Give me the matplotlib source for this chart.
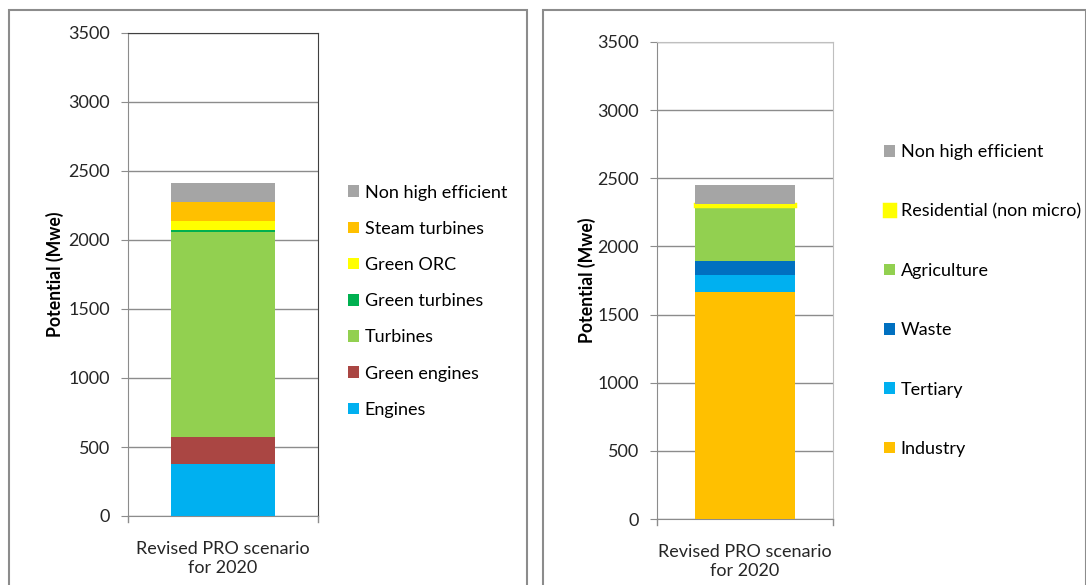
import matplotlib.pyplot as plt
from matplotlib.patches import Rectangle, Patch

plt.rcParams["font.family"] = ["Lato", "DejaVu Sans"]

scenario = ["Revised PRO scenario\nfor 2020"]

# technology split (MWe), bottom to top
tech_labels = ["Engines", "Green engines", "Turbines", "Green turbines",
               "Green ORC", "Steam turbines", "Non high efficient"]
tech_values = [380, 190, 1485, 15, 70, 138, 135]
tech_colors = ["#00B0F0", "#AA4643", "#92D050", "#00B050",
               "#FFFF00", "#FFC000", "#A5A5A5"]

# sector split (MWe), bottom to top
sector_labels = ["Industry", "Tertiary", "Waste", "Agriculture",
                 "Residential (non micro)", "Non high efficient"]
sector_values = [1668, 120, 107, 405, 8, 140]
sector_colors = ["#FFC000", "#00B0F0", "#0070C0", "#92D050",
                 "#FFFF00", "#A5A5A5"]

yticks = [0, 500, 1000, 1500, 2000, 2500, 3000, 3500]

FS = 13
W, H = 1086, 585
fig = plt.figure(figsize=(W / 100, H / 100), dpi=100)


def px_axes(x0, x1, y_top, y_bot):
    return fig.add_axes([x0 / W, 1 - y_bot / H, (x1 - x0) / W, (y_bot - y_top) / H])


def stacked(ax, labels, values, colors, width, edge_idx=None):
    handles = []
    bottom = 0
    for i, (lab, v, c) in enumerate(zip(labels, values, colors)):
        if i == edge_idx:
            ax.bar(scenario, [v], bottom=bottom, width=width, color=c,
                   edgecolor=c, linewidth=2.5, zorder=3)
            handles.append(Patch(facecolor=c, edgecolor=c, linewidth=2.5, label=lab))
        else:
            ax.bar(scenario, [v], bottom=bottom, width=width, color=c,
                   linewidth=0, zorder=3)
            handles.append(Patch(facecolor=c, label=lab))
        bottom += v
    return handles


def style(ax, frame_color, ylabel_pad):
    ax.set_ylim(0, 3500)
    ax.set_xlim(-0.5, 0.5)
    ax.set_yticks(yticks)
    ax.set_yticklabels([str(t) for t in yticks], fontsize=FS, color="#262626")
    ax.grid(axis="y", color="#8c8c8c", linewidth=1, zorder=0)
    ax.set_axisbelow(True)
    for s in ["left", "bottom"]:
        ax.spines[s].set_color("#8c8c8c")
    for s in ["top", "right"]:
        ax.spines[s].set_color(frame_color)
    ax.tick_params(axis="y", length=5, color="#8c8c8c", pad=8)
    ax.tick_params(axis="x", length=0, pad=18, labelsize=FS, labelcolor="#262626")
    for lab in ax.get_xticklabels():
        lab.set_linespacing(1.2)
    # small tick marks at the category boundaries
    for xx in (-0.5, 0.5):
        ax.plot([xx, xx], [0, -0.012], transform=ax.get_xaxis_transform(),
                color="#8c8c8c", lw=1, clip_on=False)
    ax.set_ylabel("Potential (Mwe)", fontsize=FS - 0.3, fontweight="bold",
                  labelpad=ylabel_pad)


# left panel
ax1 = px_axes(128, 318, 33, 516)
h1 = stacked(ax1, tech_labels, tech_values, tech_colors, width=0.55)
style(ax1, "#404040", 3)
ax1.legend(handles=h1[::-1], loc="upper left", bbox_to_anchor=(1.11, 0.705),
           frameon=False, fontsize=FS, handlelength=0.62, handleheight=0.62,
           handletextpad=0.3, labelspacing=1.12, borderpad=0)

# right panel
ax2 = px_axes(657, 833, 42, 519)
h2 = stacked(ax2, sector_labels, sector_values, sector_colors, width=0.57, edge_idx=4)
style(ax2, "#bfbfbf", 1)
ax2.legend(handles=h2[::-1], loc="upper left", bbox_to_anchor=(1.238, 0.805),
           frameon=False, fontsize=FS, handlelength=0.62, handleheight=0.62,
           handletextpad=0.3, labelspacing=2.4, borderpad=0)

# panel frames
fig.patches.append(Rectangle((9 / W, -0.1), (527 - 9) / W, 1.1 - 10 / H,
                             transform=fig.transFigure, fill=False,
                             edgecolor="#8c8c8c", linewidth=1.5))
fig.patches.append(Rectangle((543 / W, -0.1), 0.5, 1.1 - 10 / H,
                             transform=fig.transFigure, fill=False,
                             edgecolor="#8c8c8c", linewidth=1.5))

fig.savefig("out.png", dpi=100)
